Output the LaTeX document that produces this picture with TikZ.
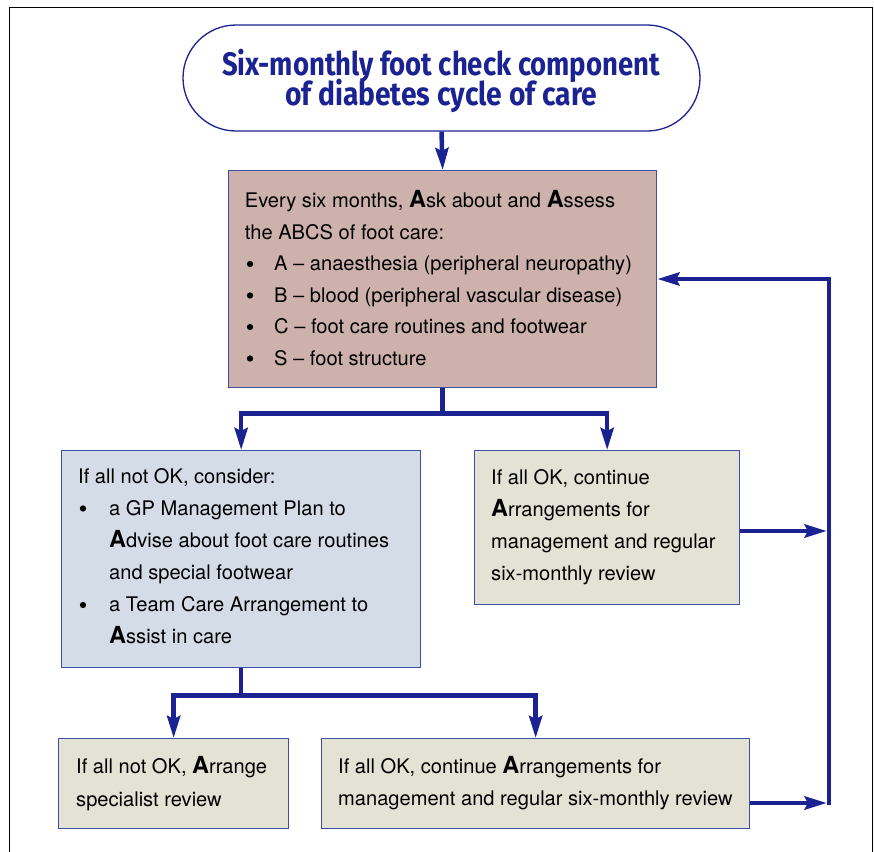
\documentclass[tikz,border=0pt]{standalone}
\usepackage{fontspec}
\setmainfont{TeX Gyre Heros}
\newfontfamily\titlefont{Fira Sans}
\usepackage{graphicx}
\usetikzlibrary{arrows.meta,calc}

\definecolor{navy}{HTML}{1A2391}
\definecolor{edge}{HTML}{3E4FA6}
\definecolor{rose}{HTML}{CDB1AC}
\definecolor{pale}{HTML}{D4DCE8}
\definecolor{beige}{HTML}{E4E1D5}

\newlength\fitlen
\newcommand\fitw[2]{\settowidth\fitlen{#2}\pgfmathsetmacro\fitfac{#1/\fitlen}\scalebox{\fitfac}[1]{#2}}
\newcommand\BA[1]{{\fontsize{23.5}{23.5}\selectfont\bfseries #1}}
\newcommand\bodyfont{\fontsize{20.1}{32}\selectfont}

\begin{document}
\begin{tikzpicture}[x=1pt,y=-1pt,
  box/.style={draw=edge, line width=1.3pt, rectangle, inner sep=0pt, anchor=north west},
  txt/.style={anchor=base west, inner sep=0pt, font=\bodyfont, text=black},
  bul/.style={circle, fill=black, inner sep=0pt, minimum size=6.3pt},
  ttl/.style={anchor=base, inner sep=0pt, text=navy, font=\titlefont\bfseries\fontsize{32.5}{32.5}\selectfont},
  conn/.style={draw=navy, line width=4.5pt, line join=miter,
    -{Stealth[length=22pt,width=13pt,inset=3pt]}},
]
\useasboundingbox (0,0) rectangle (874,851);
% outer frame
\draw[black, line width=1.2pt] (9.5,870) -- (9.5,7.5) -- (872.5,7.5) -- (872.5,870);

% title
\node[draw=navy, line width=1.3pt, rounded corners=53pt, minimum width=517pt,
  minimum height=106pt, inner sep=0pt, fill=white] (title) at (441.5,78) {};
\node[ttl] (title1) at (441,75) {\fitw{438}{Six-monthly foot check component}};
\node[ttl] (title2) at (441,105.5) {\fitw{312}{of diabetes cycle of care}};

% boxes
\node[box, fill=rose, minimum width=428pt, minimum height=217pt] (top) at (228,170) {};
\node[box, fill=pale, minimum width=359pt, minimum height=217pt] (notok) at (61,450) {};
\node[box, fill=beige, minimum width=265pt, minimum height=154pt] (ok) at (474,450) {};
\node[box, fill=beige, minimum width=230pt, minimum height=90pt] (spec) at (58,738) {};
\node[box, fill=beige, minimum width=428pt, minimum height=90pt] (ok2) at (321,738) {};

% top box text
\node[txt] (a1) at (244.7,207) {Every six months, \BA{A}sk about and \BA{A}ssess};
\node[txt] (a2) at (244.7,239) {the ABCS of foot care:};
\node[bul] (ab1) at (250,264) {};
\node[txt] (a3) at (274,270.5) {A – anaesthesia (peripheral neuropathy)};
\node[bul] (ab2) at (250,295.5) {};
\node[txt] (a4) at (274,302) {B – blood (peripheral vascular disease)};
\node[bul] (ab3) at (250,327) {};
\node[txt] (a5) at (274,333.5) {C – foot care routines and footwear};
\node[bul] (ab4) at (250,358.5) {};
\node[txt] (a6) at (274,365) {S – foot structure};

% not OK box text
\node[txt] (b1) at (78,483) {If all not OK, consider:};
\node[bul] (bb1) at (83,508.5) {};
\node[txt] (b2) at (109,515) {a GP Management Plan to};
\node[txt] (b3) at (109,547.5) {\BA{A}dvise about foot care routines};
\node[txt] (b4) at (109,579) {and special footwear};
\node[bul] (bb2) at (83,605) {};
\node[txt] (b5) at (109,611.5) {a Team Care Arrangement to};
\node[txt] (b6) at (109,643) {\BA{A}ssist in care};

% OK box text
\node[txt] (c1) at (491,484) {If all OK, continue};
\node[txt] (c2) at (491,516) {\BA{A}rrangements for};
\node[txt] (c3) at (491,548.5) {management and regular};
\node[txt] (c4) at (491,580) {six-monthly review};

% specialist box text
\node[txt] (d1) at (76,773) {If all not OK, \BA{A}rrange};
\node[txt] (d2) at (76,806) {specialist review};

% OK2 box text
\node[txt] (e1) at (338,773) {If all OK, continue \BA{A}rrangements for};
\node[txt] (e2) at (338,805) {management and regular six-monthly review};

% connectors
\draw[conn] (title.south) -- (top.north);
\draw[conn] (top.south) -- ++(0,25) -| (notok.north);
\draw[conn] (top.south) -- ++(0,25) -| (ok.north);
\draw[conn] (notok.south) -- ++(0,27) -| (spec.north);
\draw[conn] (notok.south) -- ++(0,27) -| (ok2.north);

\coordinate (rB) at (829,531);
\coordinate (lB) at (829,803);
\coordinate (lT) at (829,279);
\draw[conn] (ok.east |- rB) -- ($(rB)+(-2.2,0)$);
\draw[conn] (ok2.east |- lB) -- ($(lB)+(-2.2,0)$);
\draw[conn] ($(lB)+(0,2.25)$) -- (lT) -- (top.east |- lT);
\end{tikzpicture}
\end{document}
